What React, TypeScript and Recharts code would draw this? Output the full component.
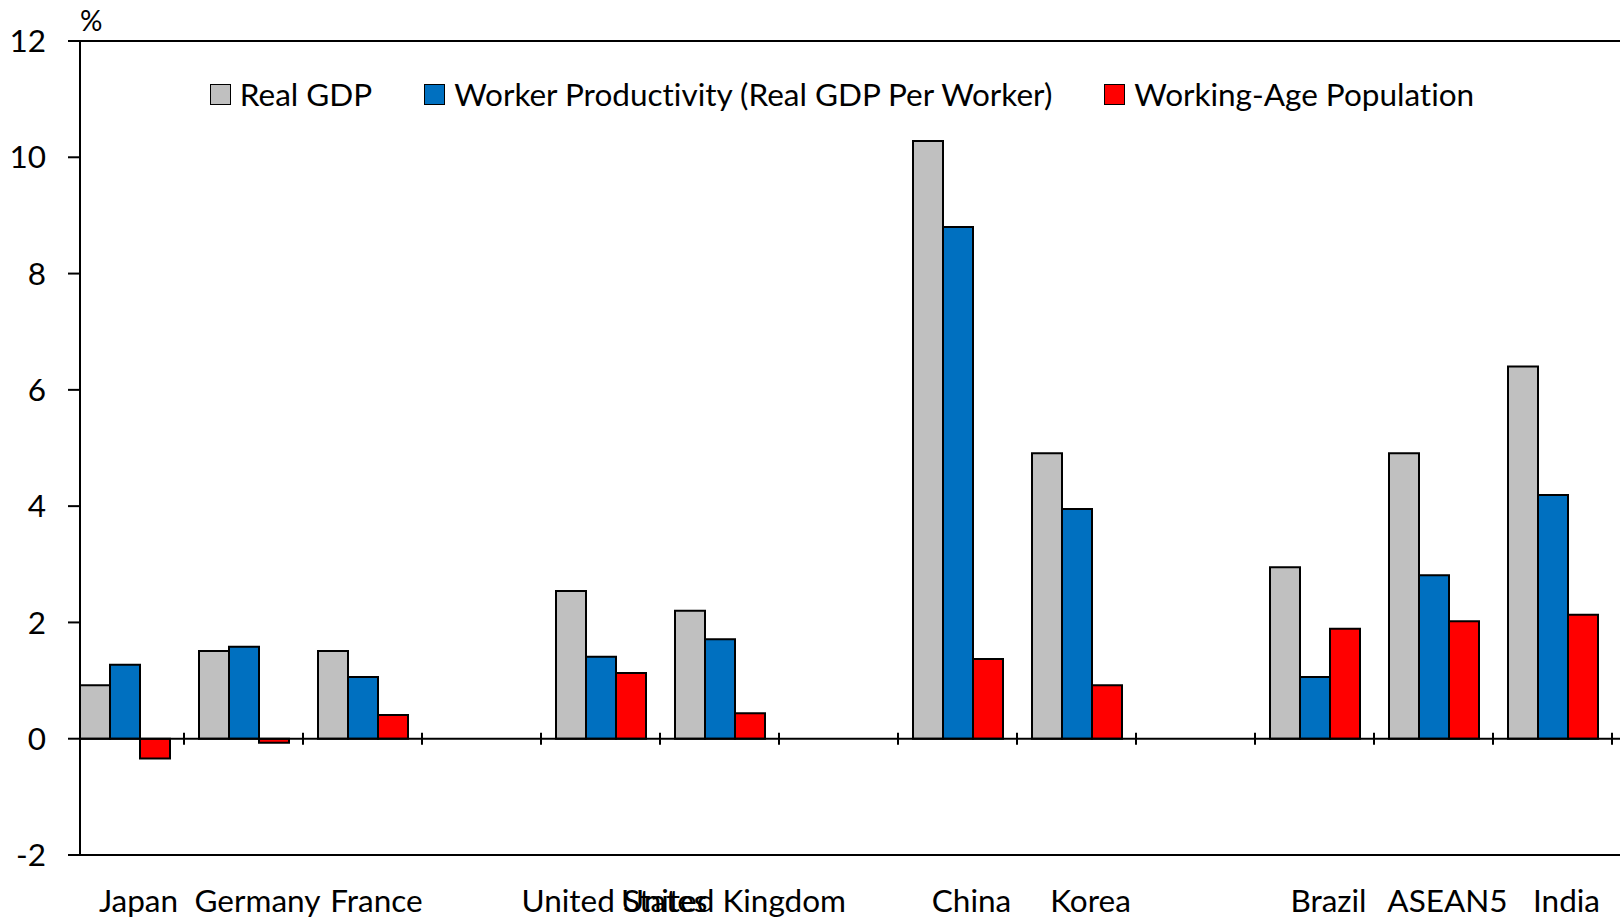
import React from "react";
import { BarChart, Bar, XAxis, YAxis, ReferenceLine, Legend, Label } from "recharts";

const FONT = "Lato, 'Liberation Sans', sans-serif";
const FONT_SIZE = 31.5;

// blank entries keep the spacing between country groups
const countries = [
  "Japan", "Germany", "France", " ",
  "United States", "United Kingdom", "  ",
  "China", "Korea", "   ",
  "Brazil", "ASEAN5", "India",
];

const realGdp = [0.92, 1.51, 1.51, null, 2.54, 2.2, null, 10.28, 4.91, null, 2.95, 4.91, 6.4];
const productivity = [1.27, 1.58, 1.06, null, 1.41, 1.71, null, 8.8, 3.95, null, 1.06, 2.81, 4.19];
const workingAge = [-0.34, -0.07, 0.41, null, 1.13, 0.44, null, 1.37, 0.92, null, 1.89, 2.02, 2.13];

const yTicks = [-2, 0, 2, 4, 6, 8, 10, 12];

const COLORS: Record<string, string> = {
  realGdp: "#C0C0C0",
  productivity: "#0070C0",
  workingAge: "#FF0000",
};

const data = countries.map((country, i) => ({
  country,
  realGdp: realGdp[i],
  productivity: productivity[i],
  workingAge: workingAge[i],
}));

const W = 1620;
const H = 917;
const TOP = 41;
const X_AXIS_H = 62;
const Y_MIN = -2;
const Y_MAX = 12;
const PLOT_H = H - TOP - X_AXIS_H;
const ZERO_Y = TOP + (PLOT_H * Y_MAX) / (Y_MAX - Y_MIN);

const noLig = { fontVariantLigatures: "none" as const };

// label under the plot plus a small tick on the zero line at the band's right edge
const CountryTick = (props: any) => {
  const { x, y, payload } = props;
  const half = payload.offset > 0 ? payload.offset : 59.5;
  return (
    <g>
      <line x1={x + half} x2={x + half} y1={ZERO_Y - 6} y2={ZERO_Y + 6} stroke="#000" strokeWidth={2} />
      <text x={x + 14} y={y + 55} textAnchor="middle" fontFamily={FONT} fontSize={FONT_SIZE} fill="#000" style={noLig}>
        {payload.value.trim()}
      </text>
    </g>
  );
};

const renderLegend = (props: any) => (
  <div
    style={{
      display: "flex",
      justifyContent: "center",
      fontFamily: FONT,
      fontSize: FONT_SIZE,
      color: "#000",
      lineHeight: "36px",
      fontVariantLigatures: "none",
    }}
  >
    {props.payload.map((p: any, i: number) => (
      <div key={p.dataKey} style={{ display: "flex", alignItems: "center", marginLeft: i ? 52 : 0 }}>
        <span
          style={{
            display: "inline-block",
            width: 19,
            height: 19,
            border: "1.5px solid #000",
            background: COLORS[p.dataKey],
            marginRight: 9,
          }}
        />
        <span>{p.value}</span>
      </div>
    ))}
  </div>
);

export default function App() {
  return (
    <div style={{ position: "absolute", left: 0, top: 0 }}>
      <BarChart
        width={W}
        height={H}
        data={data}
        margin={{ top: TOP, right: 0, bottom: 0, left: 0 }}
        barGap={0}
      >
        <XAxis
          dataKey="country"
          height={X_AXIS_H}
          axisLine={false}
          tickLine={false}
          tickSize={0}
          interval={0}
          padding={{ left: -15, right: 8 }}
          tick={<CountryTick />}
        />
        <YAxis
          width={80}
          domain={[Y_MIN, Y_MAX]}
          ticks={yTicks}
          allowDataOverflow
          tickSize={12}
          tickMargin={22}
          axisLine={{ stroke: "#000", strokeWidth: 2 }}
          tickLine={{ stroke: "#000", strokeWidth: 2 }}
          tick={{ fill: "#000", fontSize: FONT_SIZE, fontFamily: FONT }}
        >
          <Label
            content={() => (
              <text x={80} y={31} fontFamily={FONT} fontSize={28} fill="#000">
                %
              </text>
            )}
          />
        </YAxis>
        <Legend
          layout="horizontal"
          verticalAlign="middle"
          align="center"
          content={renderLegend}
          wrapperStyle={{ top: 76, left: 72, width: 1540 }}
        />
        <Bar dataKey="realGdp" name="Real GDP" fill={COLORS.realGdp} stroke="#000" strokeWidth={2} barSize={30} isAnimationActive={false} />
        <Bar dataKey="productivity" name="Worker Productivity (Real GDP Per Worker)" fill={COLORS.productivity} stroke="#000" strokeWidth={2} barSize={30} isAnimationActive={false} />
        <Bar dataKey="workingAge" name="Working-Age Population" fill={COLORS.workingAge} stroke="#000" strokeWidth={2} barSize={30} isAnimationActive={false} />
        <ReferenceLine y={0} stroke="#000" strokeWidth={2} />
        <ReferenceLine y={Y_MAX} stroke="#000" strokeWidth={2} />
        <ReferenceLine y={Y_MIN} stroke="#000" strokeWidth={2} />
      </BarChart>
    </div>
  );
}
